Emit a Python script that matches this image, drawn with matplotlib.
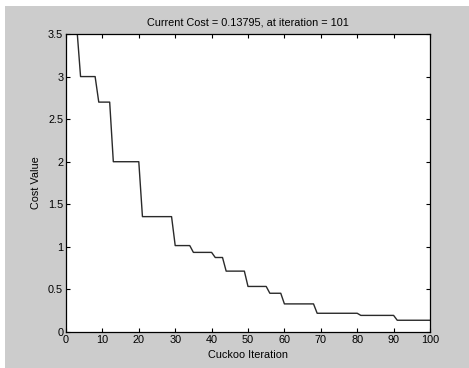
import numpy as np
import matplotlib
matplotlib.use("Agg")
import matplotlib.pyplot as plt
from matplotlib.patches import Rectangle


# corner points of the best-cost curve
iters = [0, 1, 2, 3, 4, 8, 9, 12, 13, 20, 21, 29, 30, 34, 35, 40, 41, 43, 44,
         49, 50, 55, 56, 59, 60, 68, 69, 80, 81, 90, 91, 100]
cost = [4.6, 4.1, 3.8, 3.56, 3.0, 3.0, 2.7, 2.7, 2.0, 2.0, 1.355, 1.355,
        1.015, 1.015, 0.935, 0.935, 0.875, 0.875, 0.715, 0.715, 0.535, 0.535,
        0.455, 0.455, 0.33, 0.33, 0.22, 0.22, 0.195, 0.195, 0.13795, 0.13795]

xticks = [0, 10, 20, 30, 40, 50, 60, 70, 80, 90, 100]
yticks = [0, 0.5, 1, 1.5, 2, 2.5, 3, 3.5]
ytick_labels = ["0", "0.5", "1", "1.5", "2", "2.5", "3", "3.5"]

GRAY = "#cccccc"
plt.rcParams["font.family"] = ["Liberation Sans", "DejaVu Sans"]


def main():
    fig = plt.figure(figsize=(4.69, 3.68), dpi=100, facecolor=GRAY)
    # white strip at top and left (screenshot edge)
    fig.patches.append(Rectangle((0, 1 - 6 / 368), 1, 6 / 368, transform=fig.transFigure,
                                 facecolor="white", edgecolor="none", zorder=0))
    fig.patches.append(Rectangle((0, 0), 5 / 469, 1, transform=fig.transFigure,
                                 facecolor="white", edgecolor="none", zorder=0))

    ax = fig.add_axes([66 / 469, 36 / 368, 364 / 469, 298 / 368])
    ax.plot(iters, cost, color="#2a2a2a", lw=1.0)

    ax.set_xlim(0, 100)
    ax.set_ylim(0, 3.5)
    ax.set_xticks(xticks)
    ax.set_yticks(yticks)
    ax.set_yticklabels(ytick_labels)
    ax.tick_params(direction="in", length=3, width=0.8, top=True, right=True,
                   labelsize=7.8, pad=2, colors="black")
    for s in ax.spines.values():
        s.set_linewidth(0.9)
        s.set_color("black")

    ax.set_title("Current Cost = 0.13795, at iteration = 101", fontsize=7.8, pad=6)
    ax.set_xlabel("Cuckoo Iteration", fontsize=7.8, labelpad=4)
    ax.set_ylabel("Cost Value", fontsize=7.8, labelpad=5)

    fig.savefig("out.png", dpi=100, facecolor=GRAY)


if __name__ == '__main__':
    main()
